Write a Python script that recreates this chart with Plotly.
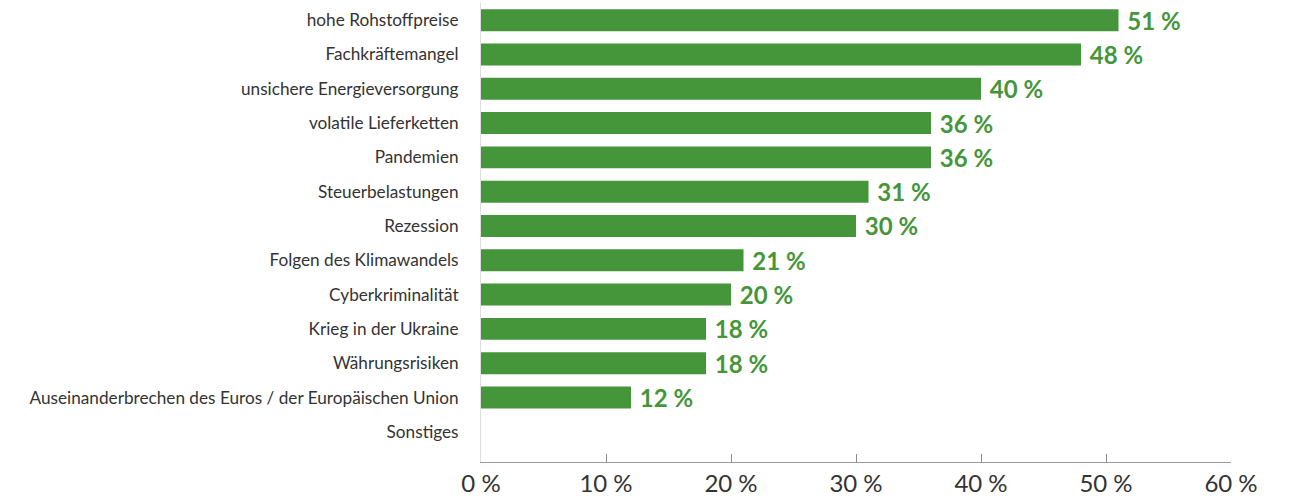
import plotly.graph_objects as go

categories = [
    "hohe Rohstoffpreise",
    "Fachkräftemangel",
    "unsichere Energieversorgung",
    "volatile Lieferketten",
    "Pandemien",
    "Steuerbelastungen",
    "Rezession",
    "Folgen des Klimawandels",
    "Cyberkriminalität",
    "Krieg in der Ukraine",
    "Währungsrisiken",
    "Auseinanderbrechen des Euros / der Europäischen Union",
    "Sonstiges",
]
values = [51, 48, 40, 36, 36, 31, 30, 21, 20, 18, 18, 12, None]
tick_vals = [0, 10, 20, 30, 40, 50, 60]
tick_text = ["0 %", "10 %", "20 %", "30 %", "40 %", "50 %", "60 %"]

green = "#45963b"

fig = go.Figure(
    go.Bar(
        y=categories,
        x=values,
        orientation="h",
        marker=dict(color=green, line=dict(width=0)),
        text=[f" {v} %" if v is not None else "" for v in values],
        textposition="outside",
        constraintext="none",
        textfont=dict(family="Lato", size=24, color=green, weight="bold"),
        cliponaxis=False,
        hoverinfo="skip",
    )
)

n = len(categories)
fig.update_layout(
    width=1294,
    height=499,
    margin=dict(l=481, r=63, t=3, b=37),
    paper_bgcolor="white",
    plot_bgcolor="white",
    bargap=0.36,
    showlegend=False,
    xaxis=dict(
        range=[0, 60],
        tickvals=tick_vals,
        ticktext=tick_text,
        showgrid=False,
        zeroline=False,
        showline=True,
        linecolor="#9a9a9a",
        linewidth=1,
        ticks="inside",
        ticklen=8,
        tickcolor="#8a8a8a",
        ticklabelstandoff=0,
        automargin=False,
        tickfont=dict(family="Lato", size=24, color="#333333"),
    ),
    yaxis=dict(
        type="category",
        range=[n - 0.5 + 0.38, -0.5],
        showgrid=False,
        zeroline=False,
        showline=True,
        linecolor="#dddddd",
        linewidth=1,
        ticks="",
        ticklabelstandoff=18,
        automargin=False,
        tickfont=dict(family="Lato", size=17.2, color="#333333"),
    ),
)

fig.write_html("out.html")
